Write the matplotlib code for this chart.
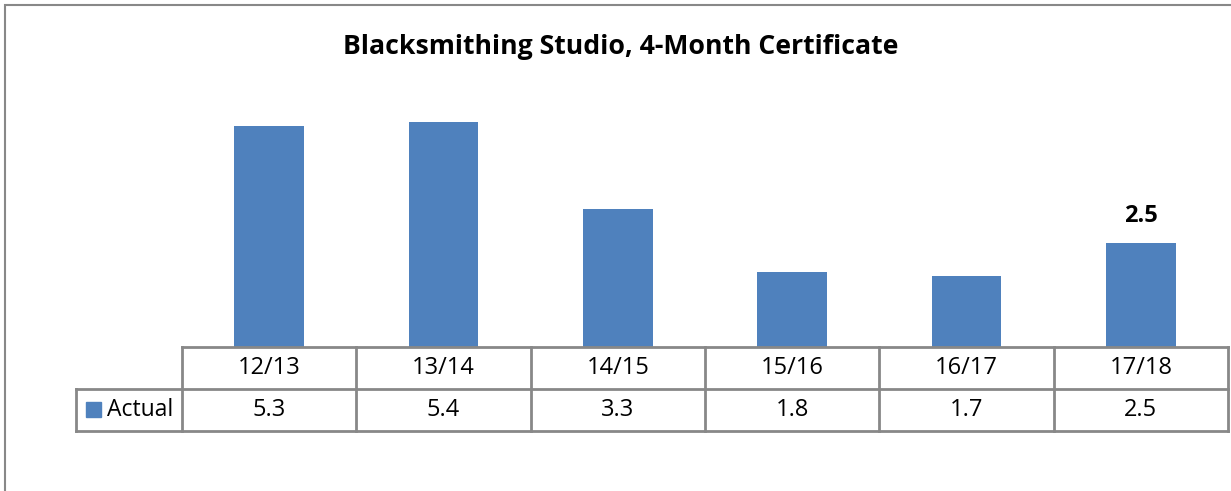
import matplotlib.pyplot as plt
from matplotlib.patches import Rectangle
from matplotlib.lines import Line2D

years = ["12/13", "13/14", "14/15", "15/16", "16/17", "17/18"]
actual = [5.3, 5.4, 3.3, 1.8, 1.7, 2.5]
series_name = "Actual"
title = "Blacksmithing Studio, 4-Month Certificate"

W, H = 1231, 491
bar_color = "#4F81BD"
grid_color = "#888888"
plt.rcParams['font.family'] = ['Open Sans', 'DejaVu Sans']

fig = plt.figure(figsize=(W / 100, H / 100), dpi=100)

# outer chart frame (only left/top are visible inside the image)
fig.add_artist(Rectangle((5 / W, -0.1), 1.2, 1 - 5 / H + 0.1, transform=fig.transFigure,
                         fill=False, edgecolor=grid_color, linewidth=1.5))

ax = fig.add_axes([182 / W, 1 - 347 / H, (1228 - 182) / W, (347 - 99) / H])
x = list(range(len(years)))
ax.bar(x, actual, width=0.4, color=bar_color)
ax.set_xlim(-0.5, len(years) - 0.5)
ax.set_ylim(0, 5.95)
ax.axis("off")

# value label on the last bar only
ax.text(x[-1], actual[-1] + 0.35, f"{actual[-1]}", ha="center", va="bottom",
        fontsize=17, fontweight="bold")

fig.text(621 / W, 1 - 47 / H, title, ha="center", va="center",
         fontsize=19.2, fontweight="bold")

# data table underneath the bars
col_edges = [182 + i * (1228 - 182) / len(years) for i in range(len(years) + 1)]
row_top, row_mid, row_bot = 347, 389, 431
label_left = 76


def hline(x0, x1, y):
    fig.add_artist(Line2D([x0 / W, x1 / W], [1 - y / H, 1 - y / H], color=grid_color,
                          linewidth=2, transform=fig.transFigure))


def vline(xp, y0, y1):
    fig.add_artist(Line2D([xp / W, xp / W], [1 - y0 / H, 1 - y1 / H], color=grid_color,
                          linewidth=2, transform=fig.transFigure))


hline(col_edges[0], col_edges[-1], row_top)
hline(label_left, col_edges[-1], row_mid)
hline(label_left, col_edges[-1], row_bot)
vline(label_left, row_mid, row_bot)
for xe in col_edges:
    vline(xe, row_top, row_bot)

for i, (yr, v) in enumerate(zip(years, actual)):
    cx = (col_edges[i] + col_edges[i + 1]) / 2
    fig.text(cx / W, 1 - (row_top + row_mid) / 2 / H, yr, ha="center", va="center", fontsize=17)
    fig.text(cx / W, 1 - (row_mid + row_bot) / 2 / H, f"{v}", ha="center", va="center", fontsize=17)

# legend key in the row header
fig.add_artist(Rectangle((86 / W, 1 - 417 / H), 15 / W, 15 / H, transform=fig.transFigure,
                         color=bar_color))
fig.text(107 / W, 1 - (row_mid + row_bot) / 2 / H, series_name, ha="left", va="center", fontsize=16.5)

fig.savefig("out.png", dpi=100)
